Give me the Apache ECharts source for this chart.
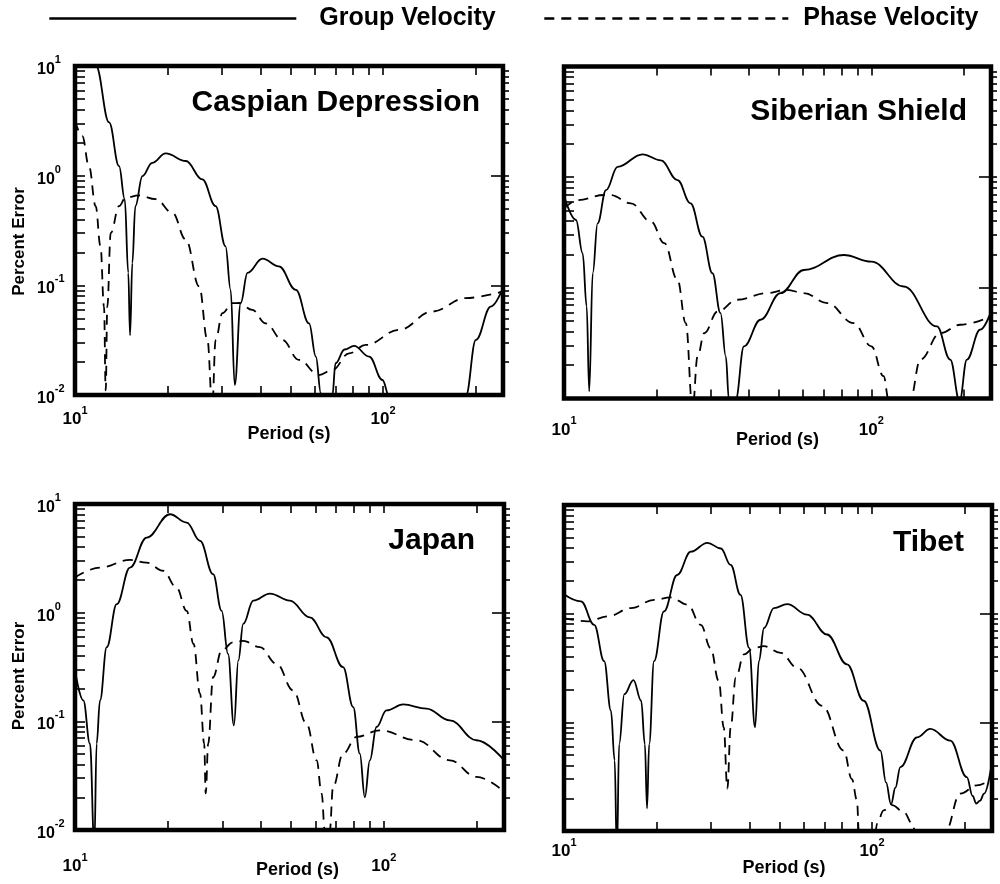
<!DOCTYPE html>
<html lang="en">
<head>
<meta charset="UTF-8">
<title>Percent Error vs Period</title>
<script src="https://cdn.jsdelivr.net/npm/echarts@6/dist/echarts.min.js"></script>
<style>
  html, body { margin: 0; padding: 0; background: #fff; }
  #chart { width: 1000px; height: 884px; }
</style>
</head>
<body>
<div id="chart"></div>
<script>
var FONT = "'Liberation Sans', Arial, Helvetica, sans-serif";

// axis ticks / labels
var periodTicks = [20, 30, 40, 50, 60, 70, 80, 90, 100, 200];
var periodLabels = [10, 100];
var errorMinor = [0.02, 0.03, 0.04, 0.05, 0.06, 0.07, 0.08, 0.09,
                  0.2, 0.3, 0.4, 0.5, 0.6, 0.7, 0.8, 0.9,
                  2, 3, 4, 5, 6, 7, 8, 9];
var errorMajor = [0.1, 1];
var errorLabels = [0.01, 0.1, 1, 10];

// [period (s), percent error]
var caspianGroup = [[10, 40], [11.7, 10], [12.9, 3.06], [13.9, 1.22], [14.5, 0.61], [14.89, 0.13], [15.09, 0.035],
  [15.35, 0.16], [15.7, 0.527], [16.55, 0.99], [17.8, 1.31], [19.7, 1.6], [22.9, 1.36], [25.9, 0.925], [28.6, 0.527],
  [30.8, 0.227], [32.0, 0.091], [33.0, 0.0123], [34.5, 0.069], [36.3, 0.13], [40.6, 0.175], [45.9, 0.149],
  [52.1, 0.091], [57.5, 0.045], [60.5, 0.0224], [62.8, 0.0104], [63.6, 0.006], [67.6, 0.006], [68.4, 0.0098],
  [70.1, 0.0195], [75, 0.026], [80.5, 0.028], [90.1, 0.0224], [99.5, 0.0137], [104.6, 0.0098], [106, 0.006],
  [183, 0.006], [185.6, 0.0098], [200, 0.0318], [223.7, 0.064], [245, 0.095]];
var caspianPhase = [[10, 3.16], [10.56, 2.3], [11.1, 1.22], [11.67, 0.527], [12.1, 0.227], [12.42, 0.064], [12.58, 0.011],
  [12.73, 0.064], [13.06, 0.3], [13.9, 0.527], [14.6, 0.63], [16.1, 0.66], [18.3, 0.61], [20.7, 0.459], [22.9, 0.261],
  [25.3, 0.0977], [26.9, 0.0318], [27.9, 0.008], [28.6, 0.0318], [30.1, 0.0558], [32.4, 0.0689], [34.1, 0.069],
  [37.6, 0.0598], [41.6, 0.045], [47.1, 0.0318], [53.3, 0.0209], [61.9, 0.0152], [68.4, 0.0169], [77.6, 0.024],
  [87.9, 0.0286], [112.7, 0.0393], [144.5, 0.0577], [185.6, 0.0766], [245, 0.088]];

var siberiaGroup = [[10, 0.68], [10.94, 0.41], [11.5, 0.205], [11.85, 0.068], [12.08, 0.0116], [12.4, 0.1355],
  [12.86, 0.383], [13.7, 0.764], [14.94, 1.24], [18.0, 1.61], [20.65, 1.42], [23.4, 0.94], [25.8, 0.58], [28.2, 0.29],
  [30.4, 0.1355], [32.3, 0.059], [33.6, 0.024], [34.4, 0.0098], [35, 0.006], [35.8, 0.006], [36.2, 0.0098],
  [38.5, 0.0296], [43.6, 0.0515], [50.6, 0.0895], [60.3, 0.145], [81.3, 0.198], [100, 0.1726], [127.4, 0.1028],
  [163.4, 0.0448], [180.5, 0.0225], [193.6, 0.0095], [204.5, 0.0225], [225.9, 0.0419], [245, 0.0612]];
var siberiaPhase = [[10, 0.52], [11.08, 0.62], [13.5, 0.69], [14.2, 0.69], [16.5, 0.58], [19.2, 0.396], [21.2, 0.253],
  [23.4, 0.118], [24.9, 0.048], [26.2, 0.008], [27.2, 0.024], [28.6, 0.039], [31.6, 0.0612], [36.6, 0.078],
  [45.8, 0.0895], [53.2, 0.096], [60.3, 0.0895], [71.8, 0.0728], [87.6, 0.048], [100, 0.0296], [109.6, 0.0159],
  [113.8, 0.0098], [116, 0.006], [131, 0.006], [133.8, 0.0098], [144.3, 0.0225], [167.5, 0.039], [194.5, 0.0464],
  [245, 0.0551]];

var japanGroup = [[10, 0.294], [10.64, 0.156], [11.18, 0.0624], [11.55, 0.007], [11.75, 0.0624], [12.05, 0.156],
  [12.67, 0.481], [13.65, 1.2], [15.07, 2.6], [17.06, 4.91], [20.3, 8.05], [23.0, 6.74], [25.4, 4.58], [28.0, 2.26],
  [29.85, 1.04], [31.3, 0.418], [32.7, 0.0919], [33.8, 0.363], [35.05, 0.788], [37.8, 1.29], [42.8, 1.5],
  [49.6, 1.29], [57.6, 0.906], [65.3, 0.593], [73.8, 0.315], [79.6, 0.135], [83.6, 0.0505], [86.8, 0.02],
  [90.1, 0.0438], [94.7, 0.0887], [102, 0.126], [115.5, 0.143], [137.4, 0.1308], [163.6, 0.102], [199.5, 0.067],
  [245, 0.0438]];
var japanPhase = [[10, 2.11], [12.05, 2.6], [15.07, 3.06], [17.06, 2.89], [19.3, 2.43], [21.3, 1.71], [23.0, 1.04],
  [24.2, 0.516], [25.4, 0.18], [26.2, 0.0624], [26.5, 0.0217], [27.0, 0.0624], [28.0, 0.255], [29.85, 0.448],
  [32.5, 0.534], [35.05, 0.55], [39.7, 0.481], [44.95, 0.338], [50.9, 0.1925], [56.2, 0.0953], [60.6, 0.0438],
  [62.9, 0.0217], [64.4, 0.0098], [65, 0.006], [66.3, 0.006], [66.8, 0.0098], [68.5, 0.025], [73.8, 0.0505],
  [81.6, 0.0718], [97.0, 0.0827], [127.6, 0.067], [163.6, 0.0438], [199.5, 0.0308], [245, 0.0225]];

var tibetGroup = [[10, 1.51], [11.35, 1.3], [12.53, 0.79], [13.5, 0.366], [14.2, 0.128], [14.6, 0.0446], [14.85, 0.006],
  [15.1, 0.063], [15.7, 0.1815], [16.8, 0.245], [17.8, 0.158], [18.3, 0.063], [18.6, 0.0161], [18.9, 0.063],
  [19.6, 0.366], [21.1, 1.05], [23.3, 2.27], [25.8, 3.72], [29.2, 4.49], [32.3, 3.98], [34.75, 2.81], [37.4, 1.49],
  [39.9, 0.484], [41.7, 0.0898], [42.9, 0.366], [44.6, 0.738], [48.0, 1.125], [53.0, 1.224], [61.5, 0.98],
  [71.4, 0.643], [82.9, 0.3415], [93.9, 0.158], [106.4, 0.055], [111, 0.028], [115.2, 0.0176], [119, 0.025],
  [123.5, 0.0387], [139.9, 0.0728], [154.5, 0.0869], [179.3, 0.068], [203, 0.0313], [212, 0.021], [217.8, 0.0179],
  [224, 0.019], [231, 0.0221], [245, 0.043]];
var tibetPhase = [[10, 0.912], [11.9, 0.85], [13.9, 0.945], [16.5, 1.125], [19.6, 1.34], [22.2, 1.41], [25.2, 1.21],
  [27.8, 0.79], [29.9, 0.484], [31.8, 0.24], [33.0, 0.0898], [33.9, 0.0245], [34.75, 0.0898], [36.1, 0.2575],
  [38.4, 0.4215], [41.35, 0.484], [44.6, 0.502], [50.5, 0.436], [57.1, 0.318], [68.9, 0.142], [80.9, 0.055],
  [86, 0.03], [89.3, 0.0192], [90.6, 0.0098], [91.5, 0.006], [101, 0.006], [103.8, 0.0117], [109, 0.0155],
  [116.1, 0.0173], [126.6, 0.015], [135, 0.0117], [138, 0.0098], [140, 0.006], [170, 0.006], [172.8, 0.0098],
  [193.2, 0.0221], [218.8, 0.0263], [245, 0.0303]];

var panels = [
  { title: 'Caspian Depression', group: caspianGroup, phase: caspianPhase,
    left: 75, top: 66, width: 428, height: 329, yLabels: true,
    labelMargin: 6, nameGap: 30, nameShift: 0, yNameShift: 11, titleX: 480, titleY: 103 },
  { title: 'Siberian Shield', group: siberiaGroup, phase: siberiaPhase,
    left: 564, top: 66.5, width: 427, height: 332, yLabels: false,
    labelMargin: 13, nameGap: 33, nameShift: 0, yNameShift: 0, titleX: 967, titleY: 112 },
  { title: 'Japan', group: japanGroup, phase: japanPhase,
    left: 75, top: 504, width: 429, height: 326, yLabels: true,
    labelMargin: 18, nameGap: 31, nameShift: 8, yNameShift: 9, titleX: 475, titleY: 541 },
  { title: 'Tibet', group: tibetGroup, phase: tibetPhase,
    left: 564, top: 505, width: 428, height: 326, yLabels: false,
    labelMargin: 2, nameGap: 28, nameShift: 6, yNameShift: 0, titleX: 964, titleY: 543 }
];

function powLabel(v) {
  var e = Math.round(Math.log10(v));
  return '{b|10}{s|' + e + '}';
}

var supRich = {
  b: { fontSize: 16, fontWeight: 'bold', fontFamily: FONT, color: '#000', lineHeight: 23, verticalAlign: 'bottom' },
  s: { fontSize: 11, fontWeight: 'bold', fontFamily: FONT, color: '#000', lineHeight: 12, verticalAlign: 'top' }
};
var supRichX = {
  b: { fontSize: 17, fontWeight: 'bold', fontFamily: FONT, color: '#000', lineHeight: 23, verticalAlign: 'bottom' },
  s: { fontSize: 11, fontWeight: 'bold', fontFamily: FONT, color: '#000', lineHeight: 12, verticalAlign: 'top' }
};

var tickStyle = { color: '#000', width: 1.6 };
var grids = [], xAxes = [], yAxes = [], series = [], graphics = [];

panels.forEach(function (p, i) {
  grids.push({
    left: p.left, top: p.top, width: p.width, height: p.height,
    show: true, borderColor: '#000', borderWidth: 4.5, backgroundColor: 'transparent',
    containLabel: false, outerBoundsMode: 'none'
  });

  // bottom axis with labels
  xAxes.push({
    type: 'log', logBase: 10, gridIndex: i, position: 'bottom', min: 10, max: 245,
    axisLine: { show: false }, splitLine: { show: false },
    axisTick: { inside: true, length: 9, lineStyle: tickStyle, customValues: periodTicks },
    axisLabel: { margin: p.labelMargin + 4, customValues: periodLabels, formatter: powLabel, rich: supRichX },
    name: 'Period (s)', nameLocation: 'middle', nameGap: p.nameGap, nameMoveOverlap: false,
    nameTextStyle: { fontSize: 18, fontWeight: 'bold', fontFamily: FONT, color: '#000',
                     padding: [0, 0, 0, p.nameShift * 2] }
  });
  // top axis, ticks only
  xAxes.push({
    type: 'log', logBase: 10, gridIndex: i, position: 'top', min: 10, max: 245,
    axisLine: { show: false }, splitLine: { show: false }, axisLabel: { show: false },
    axisTick: { inside: true, length: 9, lineStyle: tickStyle, customValues: periodTicks }
  });

  // left axis
  var left = {
    type: 'log', logBase: 10, gridIndex: i, position: 'left', min: 0.01, max: 10,
    axisLine: { show: false }, splitLine: { show: false },
    axisTick: { inside: true, length: 10, lineStyle: tickStyle, customValues: errorMinor.concat(errorMajor) },
    axisLabel: { show: p.yLabels, margin: 38, align: 'left', customValues: errorLabels,
                 formatter: powLabel, rich: supRich }
  };
  if (p.yLabels) {
    left.name = 'Percent Error';
    left.nameLocation = 'middle';
    left.nameGap = 47;
    left.nameMoveOverlap = false;
    left.nameTextStyle = { fontSize: 17, fontWeight: 'bold', fontFamily: FONT, color: '#000',
                           padding: [0, p.yNameShift * 2, 0, 0] };
  }
  yAxes.push(left);
  // right axis: short ticks outside
  yAxes.push({
    type: 'log', logBase: 10, gridIndex: i, position: 'right', min: 0.01, max: 10,
    axisLine: { show: false }, splitLine: { show: false }, axisLabel: { show: false },
    axisTick: { inside: false, length: 6, lineStyle: tickStyle, customValues: errorMinor.concat(errorMajor) }
  });
  // right axis: major ticks inside
  yAxes.push({
    type: 'log', logBase: 10, gridIndex: i, position: 'right', min: 0.01, max: 10,
    axisLine: { show: false }, splitLine: { show: false }, axisLabel: { show: false },
    axisTick: { inside: true, length: 12, lineStyle: tickStyle, customValues: errorMajor }
  });

  series.push({
    name: 'Group Velocity', type: 'line', xAxisIndex: 2 * i, yAxisIndex: 3 * i,
    data: p.group, showSymbol: false, symbol: 'none', smooth: 0.4, smoothMonotone: 'x',
    lineStyle: { color: '#000', width: 1.8, type: 'solid' }, itemStyle: { color: '#000' },
    silent: true, animation: false
  });
  series.push({
    name: 'Phase Velocity', type: 'line', xAxisIndex: 2 * i, yAxisIndex: 3 * i,
    data: p.phase, showSymbol: false, symbol: 'none', smooth: 0.4, smoothMonotone: 'x',
    lineStyle: { color: '#000', width: 1.8, type: [10, 7] }, itemStyle: { color: '#000' },
    silent: true, animation: false
  });

  graphics.push({
    type: 'text', x: p.titleX, y: p.titleY, silent: true,
    style: { text: p.title, align: 'right', verticalAlign: 'middle', fill: '#000',
             fontSize: 30, fontWeight: 'bold', fontFamily: FONT }
  });
});

var legendText = { fontSize: 25, fontWeight: 'bold', fontFamily: FONT, color: '#000' };

var myChart = echarts.init(document.getElementById('chart'), null, { renderer: 'canvas' });
myChart.setOption({
  backgroundColor: '#fff',
  animation: false,
  legend: [
    { data: ['Group Velocity'], left: 48, top: 6, padding: 0, itemWidth: 247, itemHeight: 22,
      selectedMode: false, lineStyle: { width: 2.6 }, itemStyle: { opacity: 0 },
      textStyle: Object.assign({ padding: [6, 0, 0, 18] }, legendText) },
    { data: ['Phase Velocity'], left: 543, top: 6, padding: 0, itemWidth: 244, itemHeight: 22,
      selectedMode: false, lineStyle: { width: 2.6 }, itemStyle: { opacity: 0 },
      textStyle: Object.assign({ padding: [6, 0, 0, 10] }, legendText) }
  ],
  grid: grids,
  xAxis: xAxes,
  yAxis: yAxes,
  series: series,
  graphic: graphics
});
</script>
</body>
</html>
